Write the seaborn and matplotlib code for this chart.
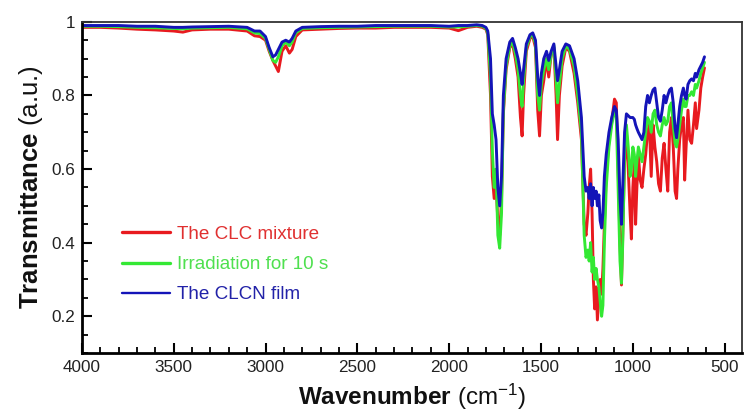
import matplotlib
matplotlib.use("Agg")
import matplotlib.pyplot as plt
import numpy as np
import pandas as pd
import seaborn as sns
from matplotlib.ticker import MultipleLocator, FuncFormatter

# ---- data ----
wn_high = [4000, 3900, 3800, 3700, 3600, 3500, 3450, 3400, 3300, 3200, 3100, 3060, 3030,
           3000, 2980, 2960, 2945, 2930, 2910, 2890, 2870, 2855, 2835, 2800, 2700, 2600,
           2500, 2400, 2300, 2200, 2100, 2000, 1950, 1900, 1850, 1820, 1800]
clcn_high = [0.990, 0.990, 0.990, 0.988, 0.988, 0.985, 0.985, 0.986, 0.987, 0.988, 0.985, 0.975, 0.975,
             0.960, 0.930, 0.905, 0.910, 0.925, 0.945, 0.950, 0.945, 0.955, 0.975, 0.985, 0.987, 0.988,
             0.988, 0.990, 0.990, 0.990, 0.990, 0.988, 0.990, 0.990, 0.992, 0.990, 0.985]
clc_high = [0.985, 0.985, 0.983, 0.980, 0.978, 0.975, 0.972, 0.978, 0.980, 0.980, 0.975, 0.962, 0.960,
            0.950, 0.920, 0.895, 0.880, 0.865, 0.920, 0.935, 0.915, 0.925, 0.960, 0.978, 0.980, 0.982,
            0.983, 0.983, 0.985, 0.985, 0.985, 0.983, 0.976, 0.985, 0.988, 0.985, 0.980]
irr_high = [0.988, 0.988, 0.987, 0.985, 0.984, 0.982, 0.981, 0.983, 0.984, 0.985, 0.981, 0.970, 0.968,
            0.955, 0.925, 0.895, 0.890, 0.905, 0.935, 0.945, 0.935, 0.945, 0.970, 0.982, 0.984, 0.985,
            0.986, 0.987, 0.988, 0.988, 0.988, 0.986, 0.986, 0.988, 0.990, 0.988, 0.982]

wn_low = [1790, 1775, 1765, 1755, 1745, 1735, 1725, 1715, 1705, 1690, 1670, 1655, 1640, 1625,
          1612, 1603, 1595, 1580, 1560, 1545, 1530, 1518, 1508, 1498, 1485, 1470, 1458, 1445,
          1430, 1418, 1410, 1400, 1385, 1365, 1345, 1320, 1300, 1280, 1265, 1255, 1245, 1238,
          1230, 1222, 1215, 1208, 1200, 1193, 1185, 1178, 1170, 1163, 1155, 1145, 1130, 1115,
          1100, 1090, 1080, 1070, 1062, 1055, 1045, 1035, 1025, 1015, 1008, 1000, 992, 985,
          978, 970, 960, 950, 940, 930, 920, 910, 900, 890, 880, 870, 860, 850, 840, 830,
          820, 810, 800, 790, 780, 770, 762, 755, 745, 735, 725, 718, 710, 700, 690, 680,
          670, 660, 653, 640, 630, 620, 610]
clcn_low = [0.975, 0.90, 0.75, 0.72, 0.68, 0.55, 0.50, 0.58, 0.80, 0.90, 0.945, 0.955, 0.93, 0.90,
            0.86, 0.83, 0.87, 0.94, 0.965, 0.97, 0.95, 0.85, 0.80, 0.86, 0.90, 0.92, 0.895, 0.92,
            0.94, 0.88, 0.84, 0.87, 0.92, 0.94, 0.935, 0.90, 0.84, 0.74, 0.58, 0.54, 0.55, 0.52,
            0.56, 0.50, 0.55, 0.52, 0.54, 0.50, 0.53, 0.46, 0.44, 0.48, 0.58, 0.64, 0.70, 0.74,
            0.77, 0.76, 0.68, 0.52, 0.45, 0.55, 0.70, 0.75, 0.745, 0.74, 0.74, 0.74, 0.735, 0.72,
            0.71, 0.70, 0.69, 0.68, 0.70, 0.77, 0.80, 0.78, 0.80, 0.815, 0.82, 0.78, 0.74, 0.73, 0.76, 0.80,
            0.78, 0.80, 0.815, 0.82, 0.78, 0.71, 0.685, 0.72, 0.77, 0.80, 0.82, 0.80, 0.79, 0.83, 0.84, 0.845,
            0.84, 0.86, 0.85, 0.87, 0.88, 0.89, 0.905]
clc_low = [0.965, 0.80, 0.58, 0.52, 0.56, 0.46, 0.42, 0.52, 0.75, 0.87, 0.93, 0.94, 0.90, 0.85,
           0.74, 0.69, 0.80, 0.92, 0.955, 0.96, 0.93, 0.76, 0.69, 0.80, 0.84, 0.90, 0.85, 0.91,
           0.93, 0.80, 0.68, 0.80, 0.88, 0.93, 0.92, 0.86, 0.78, 0.68, 0.45, 0.42, 0.48, 0.55,
           0.60, 0.48, 0.30, 0.22, 0.28, 0.19, 0.25, 0.30, 0.26, 0.33, 0.45, 0.58, 0.68, 0.73,
           0.79, 0.78, 0.60, 0.40, 0.285, 0.42, 0.62, 0.70, 0.60, 0.48, 0.41, 0.55, 0.62, 0.45,
           0.55, 0.64, 0.57, 0.55, 0.60, 0.64, 0.70, 0.72, 0.58, 0.72, 0.66, 0.62, 0.56, 0.54, 0.63, 0.67,
           0.60, 0.54, 0.70, 0.74, 0.66, 0.54, 0.52, 0.60, 0.68, 0.72, 0.74, 0.57, 0.66, 0.76, 0.68, 0.67,
           0.72, 0.78, 0.71, 0.76, 0.82, 0.85, 0.875]
irr_low = [0.970, 0.85, 0.65, 0.55, 0.60, 0.42, 0.385, 0.48, 0.76, 0.88, 0.935, 0.945, 0.915, 0.87,
           0.80, 0.77, 0.84, 0.93, 0.96, 0.965, 0.94, 0.80, 0.76, 0.83, 0.87, 0.90, 0.87, 0.91,
           0.935, 0.84, 0.78, 0.83, 0.90, 0.935, 0.925, 0.88, 0.80, 0.70, 0.42, 0.36, 0.38, 0.35,
           0.40, 0.32, 0.36, 0.30, 0.33, 0.30, 0.28, 0.24, 0.20, 0.23, 0.40, 0.55, 0.66, 0.72,
           0.76, 0.74, 0.55, 0.35, 0.29, 0.40, 0.64, 0.72, 0.66, 0.58, 0.60, 0.66, 0.64, 0.58,
           0.62, 0.66, 0.64, 0.62, 0.66, 0.70, 0.74, 0.73, 0.70, 0.75, 0.76, 0.72, 0.70, 0.69, 0.72, 0.74,
           0.72, 0.73, 0.77, 0.78, 0.72, 0.67, 0.66, 0.68, 0.72, 0.76, 0.79, 0.77, 0.77, 0.80, 0.80, 0.81,
           0.80, 0.83, 0.82, 0.84, 0.86, 0.875, 0.89]

series_names = ["The CLC mixture", "Irradiation for 10 s", "The CLCN film"]
series_colors = ["#e81a1f", "#33e833", "#1414b8"]
legend_text_colors = ["#e03030", "#4fe04f", "#2222a8"]
x_ticks = [4000, 3500, 3000, 2500, 2000, 1500, 1000, 500]
y_ticks = [0.2, 0.4, 0.6, 0.8, 1.0]

wavenumber = wn_high + wn_low
values = {
    series_names[0]: clc_high + clc_low,
    series_names[1]: irr_high + irr_low,
    series_names[2]: clcn_high + clcn_low,
}

frames = []
for name in series_names:
    frames.append(pd.DataFrame({"wn": wavenumber, "T": values[name], "series": name}))
df = pd.concat(frames, ignore_index=True)

# ---- style ----
sns.set_theme(style="white")
plt.rcParams['font.family'] = ['Liberation Sans', 'DejaVu Sans']
plt.rcParams['mathtext.fontset'] = 'custom'
plt.rcParams['mathtext.rm'] = 'Liberation Sans'
plt.rcParams['mathtext.bf'] = 'Liberation Sans:bold'
plt.rcParams['mathtext.it'] = 'Liberation Sans:italic'

fig = plt.figure(figsize=(7.44, 4.12), dpi=100)
ax = fig.add_axes([0.110, 0.143, 0.887, 0.804])

sns.lineplot(data=df, x="wn", y="T", hue="series", hue_order=series_names,
             palette=dict(zip(series_names, series_colors)), estimator=None, sort=False,
             linewidth=2.1, ax=ax)

ax.set_xlim(4000, 407)
ax.set_ylim(0.1, 1.0)
ax.set_xticks(x_ticks)
ax.set_yticks(y_ticks)
ax.xaxis.set_minor_locator(MultipleLocator(100))
ax.yaxis.set_minor_locator(MultipleLocator(0.05))
ax.yaxis.set_major_formatter(FuncFormatter(lambda v, p: f"{v:g}"))
ax.tick_params(axis="both", which="major", direction="in", length=7, width=1.5,
               labelsize=12.3, color="black", labelcolor="#222222", bottom=True, left=True,
               top=False, right=False, pad=5)
ax.tick_params(axis="both", which="minor", direction="in", length=4, width=1.3,
               color="black", bottom=True, left=True, top=False, right=False)

for side in ["left", "bottom"]:
    ax.spines[side].set_linewidth(2.0)
    ax.spines[side].set_color("black")
for side in ["top", "right"]:
    ax.spines[side].set_linewidth(1.3)
    ax.spines[side].set_color("#333333")

ax.set_xlabel(r"$\mathbf{Wavenumber}$ (cm$^{-1}$)", fontsize=17.5, color="#111111", labelpad=5)
ax.set_ylabel(r"$\mathbf{Transmittance}$ (a.u.)", fontsize=18.5, color="#111111", labelpad=4)

leg = ax.legend(loc="lower left", bbox_to_anchor=(0.049, 0.127), frameon=False,
                fontsize=13.6, handlelength=2.55, handletextpad=0.37, labelspacing=0.69,
                borderaxespad=0, borderpad=0.4)
for line, txt, tc in zip(leg.get_lines(), leg.get_texts(), legend_text_colors):
    line.set_linewidth(2.4)
    txt.set_color(tc)
leg.get_lines()[2].set_linewidth(1.7)

fig.savefig("out.png", dpi=100)
